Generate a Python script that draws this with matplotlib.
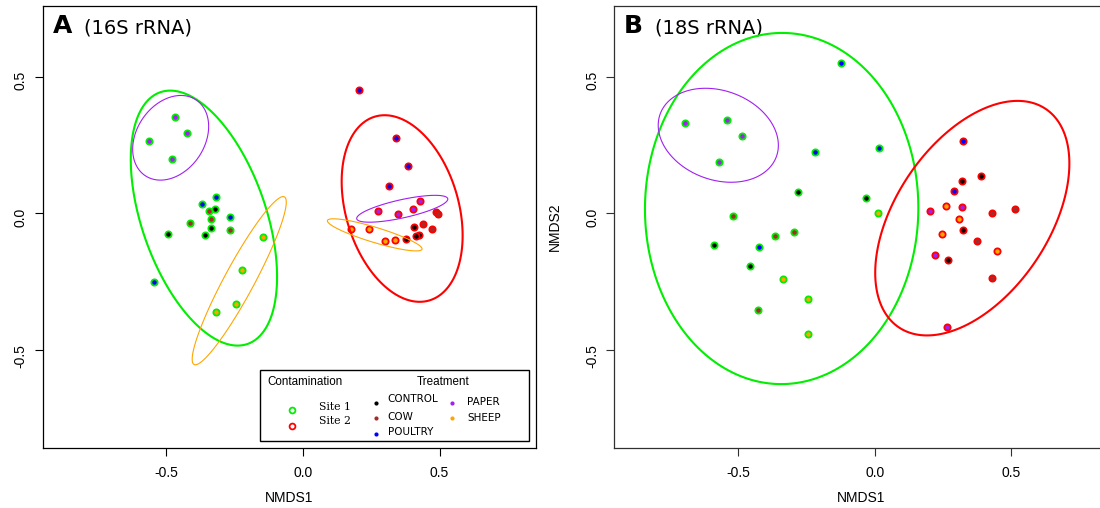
import numpy as np
import matplotlib
matplotlib.use("Agg")
import matplotlib.pyplot as plt
from matplotlib.patches import Rectangle, Polygon

# ---- groups and colours -------------------------------------------------
TREATMENTS = ["CONTROL", "COW", "POULTRY", "PAPER", "SHEEP"]
TREATMENT_COLORS = {"CONTROL": "#000000", "COW": "#A52A2A", "POULTRY": "#0000FF",
                    "PAPER": "#A020F0", "SHEEP": "#FFA500"}
SITES = ["Site 1", "Site 2"]
SITE_COLORS = {"Site 1": "#00EE00", "Site 2": "#FF0000"}

# ---- NMDS scores, 16S rRNA ---------------------------------------------
s16_nmds1 = [
    -0.469, -0.426, -0.562, -0.481,   # Site 1 PAPER
    -0.318, -0.371, -0.268, -0.546,   # Site 1 POULTRY
    -0.324, -0.336, -0.360, -0.495,   # Site 1 CONTROL
    -0.344, -0.338, -0.414, -0.269,   # Site 1 COW
    -0.147, -0.224, -0.245, -0.318,   # Site 1 SHEEP
    0.206, 0.340, 0.383, 0.315,       # Site 2 POULTRY
    0.429, 0.401, 0.274, 0.349,       # Site 2 PAPER
    0.485, 0.495, 0.440, 0.472,       # Site 2 COW
    0.406, 0.423, 0.412, 0.378,       # Site 2 CONTROL
    0.174, 0.241, 0.299, 0.336,       # Site 2 SHEEP
]
s16_nmds2 = [
    0.351, 0.293, 0.263, 0.199,
    0.061, 0.033, -0.012, -0.250,
    0.016, -0.054, -0.078, -0.077,
    0.010, -0.021, -0.034, -0.062,
    -0.087, -0.206, -0.333, -0.360,
    0.450, 0.274, 0.174, 0.101,
    0.045, 0.016, 0.007, -0.001,
    0.006, -0.004, -0.039, -0.057,
    -0.049, -0.078, -0.084, -0.093,
    -0.059, -0.057, -0.101, -0.098,
]
s16_site = ["Site 1"] * 20 + ["Site 2"] * 20
s16_treatment = (["PAPER"] * 4 + ["POULTRY"] * 4 + ["CONTROL"] * 4 + ["COW"] * 4 + ["SHEEP"] * 4
                 + ["POULTRY"] * 4 + ["PAPER"] * 4 + ["COW"] * 4 + ["CONTROL"] * 4 + ["SHEEP"] * 4)

# ---- NMDS scores, 18S rRNA ---------------------------------------------
s18_nmds1 = [
    -0.696, -0.539, -0.484, -0.571,   # Site 1 PAPER
    -0.123, 0.015, -0.217, -0.424,    # Site 1 POULTRY
    -0.281, -0.033, -0.587, -0.456,   # Site 1 CONTROL
    -0.520, -0.365, -0.294, -0.427,   # Site 1 COW
    0.013, -0.335, -0.244, -0.243,    # Site 1 SHEEP
    0.323, 0.291, 0.850,              # Site 2 POULTRY
    0.388, 0.320, 0.325, 0.268,       # Site 2 CONTROL
    0.202, 0.321, 0.222, 0.266,       # Site 2 PAPER
    0.261, 0.308, 0.246, 0.449,       # Site 2 SHEEP
    0.431, 0.512, 0.375, 0.431,       # Site 2 COW
]
s18_nmds2 = [
    0.330, 0.343, 0.282, 0.188,
    0.552, 0.238, 0.224, -0.124,
    0.079, 0.057, -0.115, -0.193,
    -0.009, -0.083, -0.068, -0.354,
    0.001, -0.241, -0.313, -0.441,
    0.263, 0.082, 0.360,
    0.137, 0.117, -0.060, -0.170,
    0.009, 0.023, -0.154, -0.416,
    0.028, -0.022, -0.074, -0.139,
    0.001, 0.015, -0.100, -0.235,
]
s18_site = ["Site 1"] * 20 + ["Site 2"] * 19
s18_treatment = (["PAPER"] * 4 + ["POULTRY"] * 4 + ["CONTROL"] * 4 + ["COW"] * 4 + ["SHEEP"] * 4
                 + ["POULTRY"] * 3 + ["CONTROL"] * 4 + ["PAPER"] * 4 + ["SHEEP"] * 4 + ["COW"] * 4)

# Ellipses drawn per panel: (site, treatment or None for the whole site)
s16_ellipses = [("Site 1", None), ("Site 2", None), ("Site 1", "PAPER"),
                ("Site 2", "PAPER"), ("Site 1", "SHEEP"), ("Site 2", "SHEEP")]
s18_ellipses = [("Site 1", None), ("Site 2", None), ("Site 1", "PAPER")]

TICK_FONT = "Liberation Sans"


def sd_ellipse(x, y, conf=0.95, n=300):
    """Standard-deviation ellipse (as in vegan::ordiellipse, kind='sd')."""
    pts = np.column_stack([x, y])
    centre = pts.mean(axis=0)
    chol = np.linalg.cholesky(np.cov(pts, rowvar=False))
    scale = np.sqrt(-2.0 * np.log(1.0 - conf))
    t = np.linspace(0, 2 * np.pi, n, endpoint=False)
    ring = centre[:, None] + scale * chol @ np.vstack([np.cos(t), np.sin(t)])
    return ring.T


def draw_panel(ax, nmds1, nmds2, site, treatment, ellipses, letter, gene, spine_color):
    nmds1 = np.asarray(nmds1)
    nmds2 = np.asarray(nmds2)
    site = np.asarray(site)
    treatment = np.asarray(treatment)

    for xi, yi, si, ti in zip(nmds1, nmds2, site, treatment):
        ax.plot(xi, yi, "o", ms=4.5, mew=1.3, mfc=TREATMENT_COLORS[ti],
                mec=SITE_COLORS[si], zorder=3)

    for s, t in ellipses:
        mask = site == s
        if t is None:
            color, lw = SITE_COLORS[s], 1.5
        else:
            mask &= treatment == t
            color, lw = TREATMENT_COLORS[t], 0.8
        ring = sd_ellipse(nmds1[mask], nmds2[mask])
        ax.add_patch(Polygon(ring, closed=True, fill=False, ec=color, lw=lw,
                             joinstyle="round", zorder=4))

    ax.set_xlim(-0.953, 0.853)
    ax.set_ylim(-0.86, 0.76)
    ax.set_xticks([-0.5, 0.0, 0.5])
    ax.set_yticks([-0.5, 0.0, 0.5])
    ax.set_xticklabels(["-0.5", "0.0", "0.5"])
    ax.set_yticklabels(["-0.5", "0.0", "0.5"])
    for lab in ax.get_xticklabels() + ax.get_yticklabels():
        lab.set_fontfamily(TICK_FONT)
        lab.set_fontsize(10)
    ax.tick_params(axis="x", length=6, width=0.8, pad=6.5, color=spine_color)
    ax.tick_params(axis="y", length=6, width=0.8, pad=5, labelrotation=90, color=spine_color)
    for sp in ax.spines.values():
        sp.set_linewidth(0.9)
        sp.set_color(spine_color)

    ax.set_xlabel("NMDS1", fontfamily=TICK_FONT, fontsize=10)
    ax.xaxis.set_label_coords(0.5, -0.113)
    ax.xaxis.label.set_va("center")

    ax.text(0.02, 0.938, letter, transform=ax.transAxes, fontsize=18,
            fontweight="bold", fontfamily="DejaVu Sans", va="baseline", ha="left")
    ax.text(0.083, 0.938, gene, transform=ax.transAxes, fontsize=14,
            fontfamily="DejaVu Sans", va="baseline", ha="left")


fig = plt.figure(figsize=(11.0, 5.08), dpi=100)
ax_a = fig.add_axes([0.0388, 0.1175, 0.4485, 0.8713])
ax_b = fig.add_axes([0.5585, 0.1175, 0.4485, 0.8713])

draw_panel(ax_a, s16_nmds1, s16_nmds2, s16_site, s16_treatment, s16_ellipses,
           "A", "(16S rRNA)", "#000000")
draw_panel(ax_b, s18_nmds1, s18_nmds2, s18_site, s18_treatment, s18_ellipses,
           "B", "(18S rRNA)", "#303030")

ax_b.set_ylabel("NMDS2", fontfamily=TICK_FONT, fontsize=10)
ax_b.yaxis.set_label_coords(-0.120, 0.5)
ax_b.yaxis.label.set_va("center")

# ---- legend in panel A ---------------------------------------------------
tr = ax_a.transAxes
ax_a.add_patch(Rectangle((0.4407, 0.0158), 0.546, 0.162, transform=tr, fill=False,
                         lw=1.0, ec="#000000", zorder=5))
ax_a.text(0.456, 0.149, "Contamination", transform=tr, fontfamily=TICK_FONT,
          fontsize=8.4, va="center", ha="left", zorder=6)
ax_a.text(0.811, 0.149, "Treatment", transform=tr, fontfamily=TICK_FONT,
          fontsize=8.4, va="center", ha="center", zorder=6)

for s, fy_marker, fy_text in zip(SITES, [0.0865, 0.0504], [0.094, 0.0624]):
    ax_a.plot(0.505, fy_marker, "o", transform=tr, ms=4.2, mew=1.3, mfc="none",
              mec=SITE_COLORS[s], zorder=6, clip_on=False)
    ax_a.text(0.560, fy_text, s, transform=tr, fontfamily="DejaVu Serif",
              fontsize=7.8, va="center", ha="left", zorder=6)

legend_rows = {
    "CONTROL": (0.675, 0.1017, 0.699, 0.1107),
    "COW": (0.675, 0.0691, 0.699, 0.0714),
    "POULTRY": (0.675, 0.0323, 0.699, 0.0375),
    "PAPER": (0.829, 0.1017, 0.860, 0.1053),
    "SHEEP": (0.829, 0.0678, 0.860, 0.0691),
}
for t in TREATMENTS:
    mx, my, tx, ty = legend_rows[t]
    ax_a.plot(mx, my, "o", transform=tr, ms=3.0, mew=0, color=TREATMENT_COLORS[t],
              zorder=6, clip_on=False)
    ax_a.text(tx, ty, t, transform=tr, fontfamily="DejaVu Sans", fontsize=7.5,
              va="center", ha="left", zorder=6)

fig.savefig("out.png", dpi=100)
